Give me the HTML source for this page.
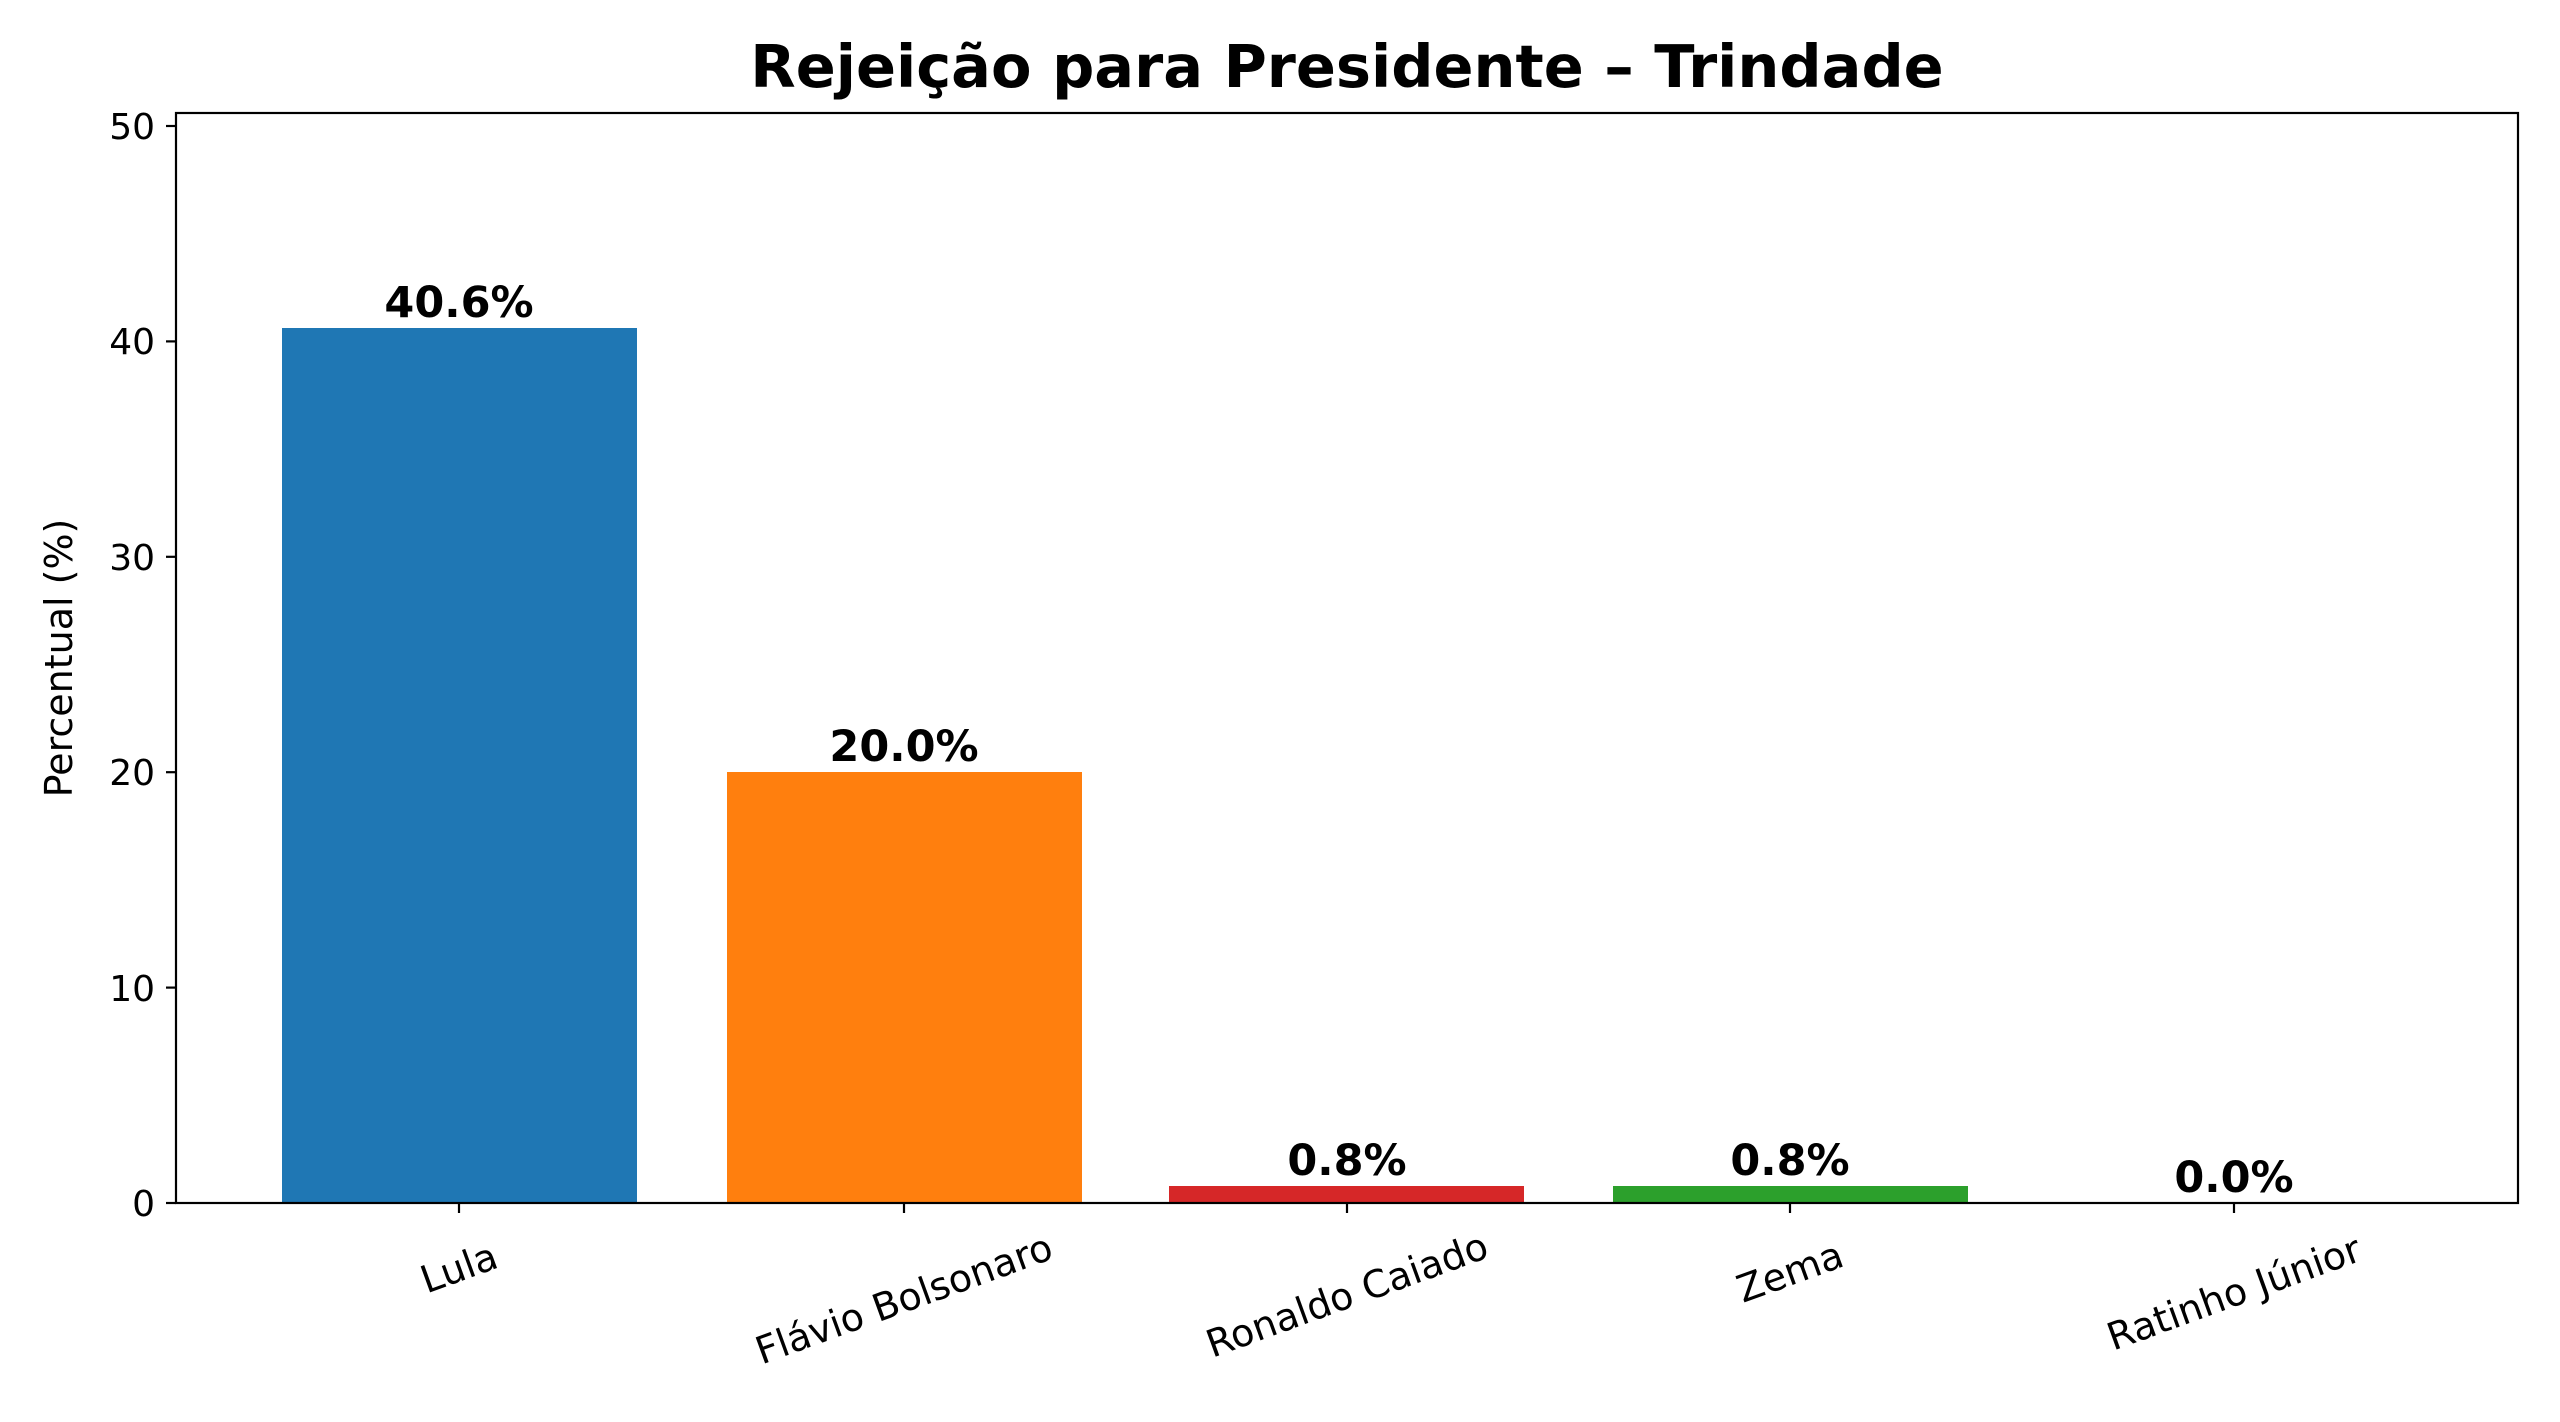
<!DOCTYPE html>
<html><head><meta charset="utf-8"><style>html,body{margin:0;padding:0;background:#fff}svg{display:block}</style></head>
<body>
<svg width="2560" height="1422" viewBox="0 0 2560 1422" xmlns="http://www.w3.org/2000/svg" font-family="DejaVu Sans, Liberation Sans, sans-serif">
<rect width="2560" height="1422" fill="#fff"/>
<text x="1347" y="87" font-size="59" font-weight="bold" text-anchor="middle" fill="#000">Rejeição para Presidente – Trindade</text>
<rect x="282" y="328" width="355" height="875" fill="#1f77b4"/>
<rect x="727" y="772" width="355" height="431" fill="#ff7f0e"/>
<rect x="1169" y="1186" width="355" height="17" fill="#d62728"/>
<rect x="1613" y="1186" width="355" height="17" fill="#2ca02c"/>
<g font-size="43" font-weight="bold" text-anchor="middle" fill="#000">
<text x="459" y="317">40.6%</text>
<text x="904" y="761">20.0%</text>
<text x="1347" y="1175">0.8%</text>
<text x="1790" y="1175">0.8%</text>
<text x="2234" y="1192">0.0%</text>
</g>
<rect x="176" y="113" width="2342" height="1090" fill="none" stroke="#000" stroke-width="2.2"/>
<g stroke="#000" stroke-width="2.2">
<line x1="166" y1="1203" x2="176" y2="1203"/>
<line x1="166" y1="987.6" x2="176" y2="987.6"/>
<line x1="166" y1="772.2" x2="176" y2="772.2"/>
<line x1="166" y1="556.8" x2="176" y2="556.8"/>
<line x1="166" y1="341.4" x2="176" y2="341.4"/>
<line x1="166" y1="126" x2="176" y2="126"/>
<line x1="459" y1="1203" x2="459" y2="1213"/>
<line x1="904" y1="1203" x2="904" y2="1213"/>
<line x1="1347" y1="1203" x2="1347" y2="1213"/>
<line x1="1790" y1="1203" x2="1790" y2="1213"/>
<line x1="2234" y1="1203" x2="2234" y2="1213"/>
</g>
<g font-size="36" text-anchor="end" fill="#000">
<text x="155" y="1216">0</text>
<text x="155" y="1001">10</text>
<text x="155" y="785">20</text>
<text x="155" y="570">30</text>
<text x="155" y="354">40</text>
<text x="155" y="139">50</text>
</g>
<text transform="translate(72,658) rotate(-90)" font-size="38" text-anchor="middle" fill="#000">Percentual (%)</text>
<g font-size="38" text-anchor="middle" fill="#000" dominant-baseline="central">
<text transform="translate(459,1268) rotate(-20)">Lula</text>
<text transform="translate(904,1299) rotate(-20)">Flávio Bolsonaro</text>
<text transform="translate(1347,1295) rotate(-20)">Ronaldo Caiado</text>
<text transform="translate(1790,1272) rotate(-20)">Zema</text>
<text transform="translate(2234,1293) rotate(-20)">Ratinho Júnior</text>
</g>
</svg>
</body></html>
